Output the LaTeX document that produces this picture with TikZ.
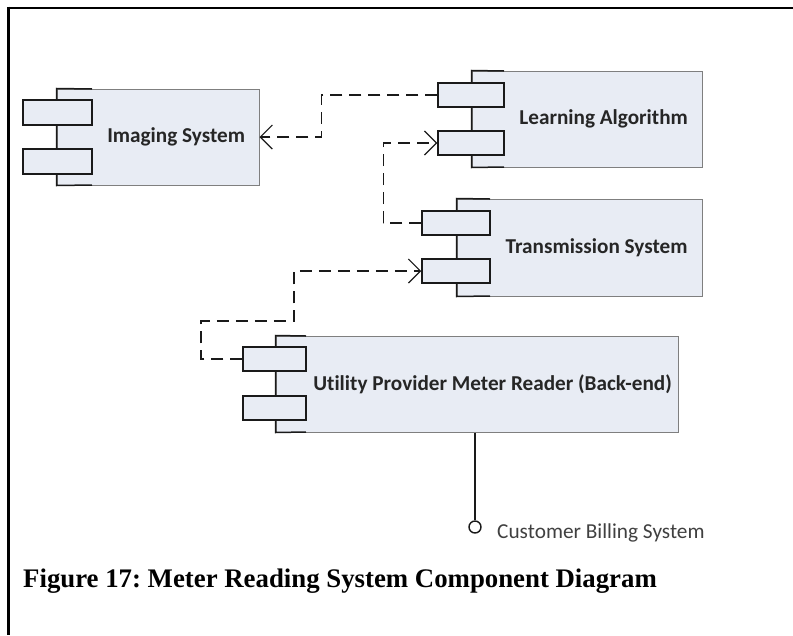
\documentclass[tikz,border=0pt]{standalone}
\usepackage{fontspec}
\setmainfont{Liberation Serif}
\newfontfamily\calibrifont[Ligatures=NoCommon]{Carlito}
\usetikzlibrary{arrows.meta,calc}
\frenchspacing
\definecolor{compfill}{HTML}{E8ECF4}
\definecolor{compedge}{HTML}{7F7F7F}
\definecolor{portedge}{HTML}{1A1A1A}
\definecolor{labelcol}{HTML}{262626}
\definecolor{notecol}{HTML}{404040}
\tikzset{
  comp/.style={draw=compedge, fill=compfill, line width=1pt, inner sep=0pt, rectangle},
  port/.style={draw=portedge, fill=compfill, line width=1.5pt, inner sep=0pt, rectangle},
  leftedge/.style={draw=portedge, line width=1.5pt},
  complabel/.style={font=\calibrifont\bfseries\fontsize{21.2}{25}\selectfont, text=labelcol, inner sep=0pt},
  dep/.style={draw=portedge, line width=1.4pt, dash pattern=on 12pt off 7pt,
    -{Straight Barb[length=12pt,width=24pt,line width=1.2pt]}},
  frameline/.style={line width=2.7pt, black}
}
\begin{document}
\begin{tikzpicture}[x=1pt,y=-1pt]
\useasboundingbox (0,0) rectangle (793,635);

% page frame (top and left rules)
\draw[frameline] (8.7,8) -- (793,8);
\draw[frameline] (8.7,6.65) -- (8.7,635);

% ---------- Imaging System ----------
\node[comp, minimum width=202pt, minimum height=96pt] (img) at (158,137) {};
\draw[leftedge] (92,89) -- (img.north west) -- (img.south west) -- (92,185);
\node[port, minimum width=69pt, minimum height=25pt] (ip1) at (57.5,112.5) {};
\node[port, minimum width=69pt, minimum height=25pt] (ip2) at (57.5,161.5) {};
\node[complabel] (imgl) at ($(ip1.east |- img.center)!0.5!(img.east)$) {Imaging System};

% ---------- Learning Algorithm ----------
\node[comp, minimum width=230pt, minimum height=96pt] (learn) at (587,119) {};
\draw[leftedge] (504,71) -- (learn.north west) -- (learn.south west) -- (504,167);
\node[port, minimum width=66pt, minimum height=24pt] (lp1) at (471,95) {};
\node[port, minimum width=66pt, minimum height=24pt] (lp2) at (471,143) {};
\node[complabel] (learnl) at ($(lp1.east |- learn.center)!0.5!(learn.east)$) {Learning Algorithm};

% ---------- Transmission System ----------
\node[comp, minimum width=245pt, minimum height=97pt] (trans) at (579.5,247.5) {};
\draw[leftedge] (490,199) -- (trans.north west) -- (trans.south west) -- (490,296);
\node[port, minimum width=68pt, minimum height=24pt] (tp1) at (456,223) {};
\node[port, minimum width=68pt, minimum height=24pt] (tp2) at (456,271) {};
\node[complabel] (transl) at ($(tp1.east |- trans.center)!0.5!(trans.east)$) {Transmission System};

% ---------- Utility Provider Meter Reader ----------
\node[comp, minimum width=402pt, minimum height=96pt] (util) at (477,384) {};
\draw[leftedge] (306,336) -- (util.north west) -- (util.south west) -- (306,432);
\node[port, minimum width=63pt, minimum height=24pt] (up1) at (274.5,359) {};
\node[port, minimum width=63pt, minimum height=24pt] (up2) at (274.5,408) {};
\node[complabel] (utill) at ($(up1.east |- util.center)!0.5!(util.east)$) {Utility Provider Meter Reader (Back-end)};

% ---------- dependencies ----------
\draw[dep] (lp1.west) -- ++(-116,0) |- (img.east);
\draw[dep] (tp1.west) -- ++(-38,0) |- (lp2.west);
\coordinate (bendA) at (201,321);
\draw[dep] (up1.west) -| (bendA) -- ++(93,0) |- (tp2.west);

% ---------- provided interface ----------
\node[draw=portedge, line width=1.4pt, circle, minimum size=12pt, inner sep=0pt] (lolli) at (475,527) {};
\draw[portedge, line width=1.4pt] (util.south -| lolli) -- (lolli.north);
\node[font=\calibrifont\fontsize{21.3}{25}\selectfont, text=notecol, anchor=west, inner sep=0pt] (billing) at (497,533) {Customer Billing System};

% ---------- caption ----------
\node[font=\bfseries\fontsize{26.8}{30}\selectfont, anchor=west, inner sep=0pt] (caption) at (23,581) {Figure 17: Meter Reading System Component Diagram};
\end{tikzpicture}
\end{document}
